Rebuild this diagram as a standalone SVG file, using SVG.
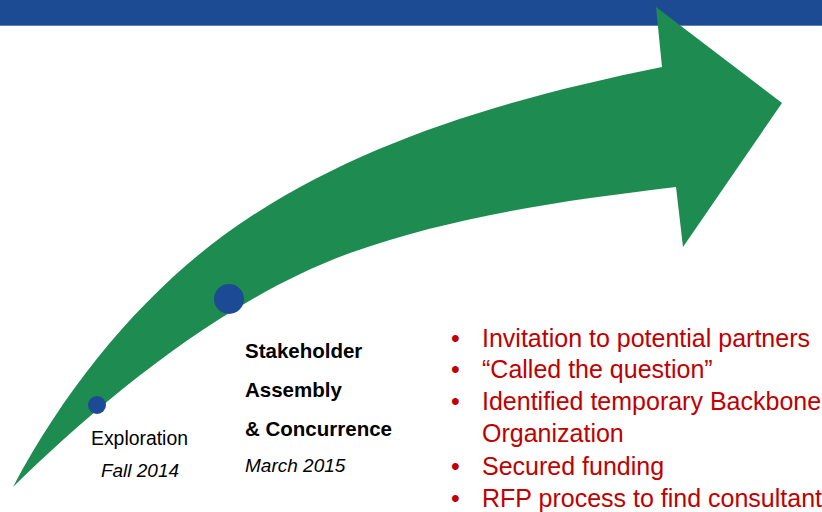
<svg xmlns="http://www.w3.org/2000/svg" width="822" height="512" viewBox="0 0 822 512">
<style>
.dot{fill:#1C4A94}
.lbl{font-family:"Liberation Sans",Arial,sans-serif;fill:#000}
.it{font-style:italic;font-size:19px}
.bd{font-weight:bold;font-size:20.5px}
.red{font-family:"Liberation Sans",Arial,sans-serif;fill:#C00000;font-size:25px}
</style>
<rect width="822" height="512" fill="#fff"/>
<g id="title-bar">
<rect x="0" y="0" width="822" height="26" fill="#1C4B94"/>
<line x1="0" y1="25.5" x2="822" y2="25.5" stroke="#5C80BE" stroke-width="1"/>
</g>
<g id="arrow">
<path fill="#1E8C50" d="M13,487 C74,372 158,277 250,217 C372,137 519,96 662,67 L656,7 L782,103 L683,247 L676,187 C567,200 453,216 350,253 C221,300 99,403 13,487 Z"/>
</g>
<g id="connectors"></g>
<g id="exploration">
<circle class="dot" cx="97" cy="405" r="9"/>
<text class="lbl" x="139.5" y="445" font-size="19.4" text-anchor="middle">Exploration</text>
<text class="lbl it" x="140" y="477" text-anchor="middle">Fall 2014</text>
</g>
<g id="stakeholder">
<circle class="dot" cx="229" cy="299" r="15"/>
<text class="lbl bd" x="245" y="358">Stakeholder</text>
<text class="lbl bd" x="245" y="397">Assembly</text>
<text class="lbl bd" x="245" y="436">&amp; Concurrence</text>
<text class="lbl it" x="245" y="472">March 2015</text>
</g>
<g id="bullets" class="red">
<text x="451" y="347">•</text><text x="482" y="347">Invitation to potential partners</text>
<text x="451" y="378">•</text><text x="482" y="378">“Called the question”</text>
<text x="451" y="410">•</text><text x="482" y="410">Identified temporary Backbone</text>
<text x="482" y="442">Organization</text>
<text x="451" y="475">•</text><text x="482" y="475">Secured funding</text>
<text x="451" y="507">•</text><text x="482" y="507">RFP process to find consultant</text>
</g>
</svg>
